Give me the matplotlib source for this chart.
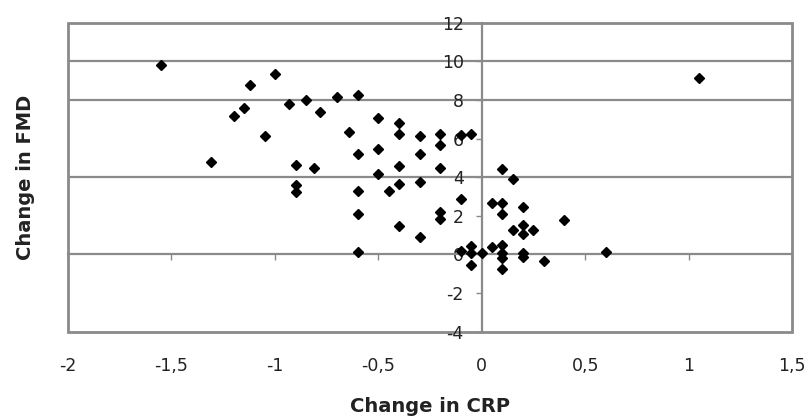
import matplotlib.pyplot as plt
from matplotlib.patches import Rectangle

# change in CRP vs change in FMD
crp = [-1.55, -1.31, -1.20, -1.15, -1.12, -1.05, -1.00, -0.93, -0.90, -0.90,
       -0.90, -0.85, -0.81, -0.78, -0.70, -0.64, -0.60, -0.60, -0.60, -0.60,
       -0.60, -0.50, -0.50, -0.50, -0.45, -0.40, -0.40, -0.40, -0.40, -0.40,
       -0.30, -0.30, -0.30, -0.30, -0.20, -0.20, -0.20, -0.20, -0.20, -0.10,
       -0.05, -0.10, -0.10, -0.05, -0.05, -0.05, 0.00, 0.05, 0.05, 0.10,
       0.10, 0.10, 0.10, 0.10, 0.10, 0.10, 0.15, 0.15, 0.20, 0.20,
       0.20, 0.20, 0.20, 0.25, 0.30, 0.40, 0.60, 1.05]
fmd = [9.80, 4.80, 7.15, 7.60, 8.75, 6.15, 9.35, 7.80, 4.65, 3.60,
       3.25, 8.00, 4.45, 7.35, 8.15, 6.35, 8.25, 5.20, 3.30, 2.10,
       0.15, 7.05, 5.45, 4.15, 3.30, 6.80, 6.25, 4.60, 3.65, 1.45,
       6.15, 5.20, 3.75, 0.90, 6.25, 5.65, 4.45, 2.20, 1.85, 6.20,
       6.25, 2.85, 0.20, 0.45, 0.10, -0.55, 0.05, 2.65, 0.40, 2.65,
       2.10, 0.50, 0.10, -0.20, -0.75, 4.40, 3.90, 1.25, 2.45, 1.50,
       1.05, 0.10, -0.15, 1.25, -0.35, 1.80, 0.15, 9.15]

x_ticks = [-2, -1.5, -1, -0.5, 0, 0.5, 1, 1.5]
x_labels = ['-2', '-1,5', '-1', '-0,5', '0', '0,5', '1', '1,5']
y_ticks = [-4, -2, 0, 2, 4, 6, 8, 10, 12]
y_labels = ['-4', '-2', '0', '2', '4', '6', '8', '10', '12']
grid_levels = [4, 8, 10]

plt.rcParams['font.family'] = ['DejaVu Sans']
gray = '#8a8a8a'
txt = '#222222'

fig = plt.figure(figsize=(8.08, 4.17), dpi=100)
ax = fig.add_axes([0.0842, 0.2046, 0.8960, 0.741])
ax.set_xlim(-2, 1.5)
ax.set_ylim(-4, 12)

# spines crossing at the origin
for s in ['top', 'right']:
    ax.spines[s].set_visible(False)
for s in ['left', 'bottom']:
    ax.spines[s].set_position(('data', 0))
    ax.spines[s].set_color(gray)
    ax.spines[s].set_linewidth(1.6)
ax.add_patch(Rectangle((0, 0), 1, 1, transform=ax.transAxes, fill=False,
                       edgecolor=gray, linewidth=2, clip_on=False, zorder=1))

# only some levels carry a gridline in the original
for g in grid_levels:
    ax.axhline(g, color=gray, linewidth=1.6, zorder=1)

ax.set_xticks(x_ticks)
ax.tick_params(axis='x', direction='out', length=4, color=gray, width=1,
               labelbottom=False)
ax.set_yticks(y_ticks)
ax.set_yticklabels(y_labels)
ax.tick_params(axis='y', direction='out', length=4, color=gray, width=1,
               pad=9, labelsize=12.5, labelcolor=txt)

sec = ax.secondary_xaxis('bottom')
sec.set_xticks(x_ticks)
sec.set_xticklabels(x_labels)
sec.tick_params(length=0, pad=18, labelsize=12.5, labelcolor=txt)
sec.spines['bottom'].set_visible(False)
sec.set_xlabel('Change in CRP', fontsize=14, fontweight='bold', color=txt,
               labelpad=16)

ax.set_ylabel('Change in FMD', fontsize=14, fontweight='bold', color=txt)
ax.yaxis.set_label_coords(-0.046, 0.5)

ax.plot(crp, fmd, linestyle='none', marker='D', markersize=5.5,
        color='black', zorder=5, clip_on=False)

fig.savefig('out.png', dpi=100)
